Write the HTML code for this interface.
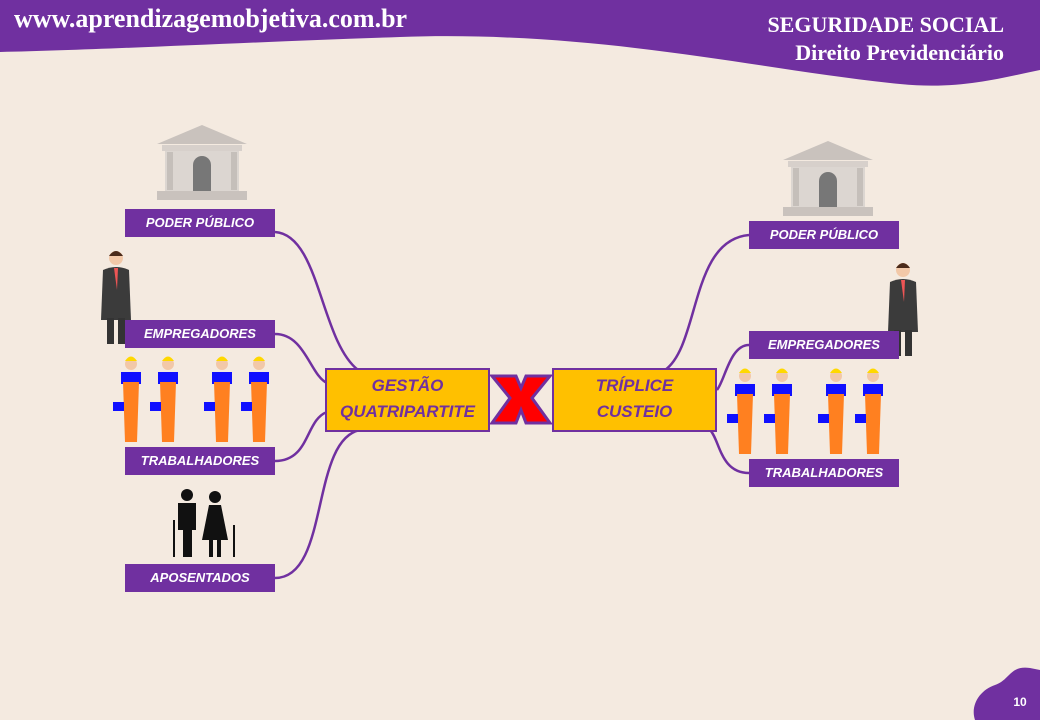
<!DOCTYPE html>
<html><head><meta charset="utf-8"><style>
body{margin:0;width:1040px;height:720px;overflow:hidden;background:#f4eae0;font-family:"Liberation Sans",sans-serif;position:relative}
.lb{position:absolute;width:150px;height:28px;background:#7030a0;color:#fff;font-weight:bold;font-style:italic;font-size:13px;line-height:28px;text-align:center}
.cb{position:absolute;width:161px;height:57px;background:#ffc000;border:2px solid #7030a0;color:#7030a0;font-weight:bold;font-style:italic;font-size:17px;text-align:center;line-height:26px;padding-top:3px;box-sizing:content-box}
svg{position:absolute;left:0;top:0}
</style></head><body>
<svg width="1040" height="720">
<path d="M0 0H1040V70C1000 78 960 90 900 84C760 70 600 30 400 37C250 42 100 50 0 52Z" fill="#7030a0"/>
<text x="14" y="27" font-family="Liberation Serif" font-weight="bold" font-size="26" fill="#fff">www.aprendizagemobjetiva.com.br</text>
<text x="1004" y="32" text-anchor="end" font-family="Liberation Serif" font-weight="bold" font-size="22" fill="#fff">SEGURIDADE SOCIAL</text>
<text x="1004" y="60" text-anchor="end" font-family="Liberation Serif" font-weight="bold" font-size="22" fill="#fff">Direito Previdenciário</text>
<g fill="none" stroke="#7030a0" stroke-width="2.5">
<path d="M275 232C320 235 320 340 358 370"/>
<path d="M275 334C305 334 310 375 327 383"/>
<path d="M275 461C310 461 305 420 327 412"/>
<path d="M275 578C330 578 310 440 360 430"/>
<path d="M749 235C690 240 700 345 665 370"/>
<path d="M749 345C730 345 725 380 717 390"/>
<path d="M749 473C720 473 720 440 710 430"/>
</g>
<path d="M975 720C970 705 980 690 995 685C1010 680 1010 665 1030 668L1040 670V720Z" fill="#7030a0"/>
<text x="1020" y="706" text-anchor="middle" font-size="12" font-weight="bold" fill="#fff">10</text>
<path d="M492 376H516L521 388L526 376H550L532 398L550 423H526L521 410L516 423H492L510 398Z" fill="#ff0000" stroke="#7030a0" stroke-width="3"/>
<g id="b"><path d="M157 144L202 125L247 144Z" fill="#c9c2bd"/><rect x="162" y="145" width="80" height="6" fill="#d7d0cb"/><rect x="165" y="151" width="74" height="40" fill="#dcd6d1"/><rect x="167" y="152" width="6" height="38" fill="#c5bfba"/><rect x="231" y="152" width="6" height="38" fill="#c5bfba"/><path d="M193 191V165A9 9 0 0 1 211 165V191Z" fill="#777"/><rect x="157" y="191" width="90" height="9" fill="#c9c2bd"/></g>
<use href="#b" transform="translate(626 16)"/>
<g id="m"><circle cx="116" cy="258" r="7" fill="#f2c8a8"/><path d="M109 256Q116 246 123 256Z" fill="#4a2a1a"/><path d="M103 270Q116 264 129 270L131 320H101Z" fill="#3b3b3b"/><path d="M114 268L118 268L117 290Z" fill="#e55"/><rect x="107" y="318" width="7" height="26" fill="#333"/><rect x="118" y="318" width="7" height="26" fill="#333"/></g>
<use href="#m" transform="translate(787 12)"/>
<g id="w"><circle cx="131" cy="364" r="6" fill="#f2c8a8"/><path d="M125 361Q131 352 137 361Z" fill="#ffd800"/><path d="M121 372H141V384H121Z" fill="#1010ff"/><path d="M123 382H139L137 442H125Z" fill="#ff8020"/><rect x="113" y="402" width="11" height="9" fill="#1010ff"/></g>
<use href="#w" transform="translate(37 0)"/><use href="#w" transform="translate(91 0)"/><use href="#w" transform="translate(128 0)"/>
<use href="#w" transform="translate(614 12)"/><use href="#w" transform="translate(651 12)"/><use href="#w" transform="translate(705 12)"/><use href="#w" transform="translate(742 12)"/>
<g fill="#111"><circle cx="187" cy="495" r="6"/><path d="M178 503H196V530H192V557H183V530H178Z"/><circle cx="215" cy="497" r="6"/><path d="M209 505H221L228 540H202Z"/><rect x="209" y="538" width="4" height="19"/><rect x="217" y="538" width="4" height="19"/><rect x="173" y="520" width="2" height="37"/><rect x="233" y="525" width="2" height="32"/></g>
</svg>
<div class="lb" style="left:125px;top:209px">PODER PÚBLICO</div>
<div class="lb" style="left:125px;top:320px">EMPREGADORES</div>
<div class="lb" style="left:125px;top:447px">TRABALHADORES</div>
<div class="lb" style="left:125px;top:564px">APOSENTADOS</div>
<div class="lb" style="left:749px;top:221px">PODER PÚBLICO</div>
<div class="lb" style="left:749px;top:331px">EMPREGADORES</div>
<div class="lb" style="left:749px;top:459px">TRABALHADORES</div>
<div class="cb" style="left:325px;top:368px">GESTÃO<br>QUATRIPARTITE</div>
<div class="cb" style="left:552px;top:368px">TRÍPLICE<br>CUSTEIO</div>
</body></html>
